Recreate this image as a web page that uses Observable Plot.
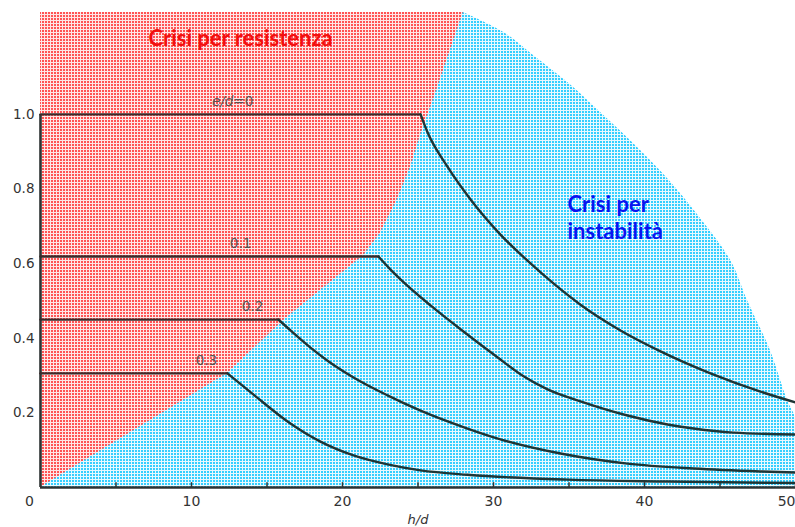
<!DOCTYPE html>
<html><head><meta charset="utf-8">
<script src="https://cdn.jsdelivr.net/npm/d3@7"></script>
<script src="https://cdn.jsdelivr.net/npm/@observablehq/plot@0.6"></script>
<style>body{margin:0;background:#fff;} svg{display:block}</style>
</head><body><div id="chart"></div>
<script>
// e/d curves: h/d (x) and load ratio (y)
const ed0_x = [0, 25.17, 25.63, 26.95, 28.48, 30.46, 32.25, 33.97, 35.76, 38.41, 41.06, 44.37, 47.68, 50];
const ed0_y = [1.0, 1.0, 0.952, 0.860, 0.772, 0.678, 0.608, 0.547, 0.490, 0.421, 0.365, 0.306, 0.257, 0.228];
const ed1_x = [0, 22.38, 23.18, 23.84, 25.83, 28.01, 30.26, 31.99, 33.58, 35.76, 38.87, 41.52, 43.25, 45.89, 50];
const ed1_y = [0.619, 0.619, 0.584, 0.558, 0.488, 0.418, 0.349, 0.298, 0.263, 0.231, 0.193, 0.169, 0.158, 0.147, 0.142];
const ed2_x = [0, 15.76, 16.56, 17.88, 19.01, 20.73, 22.98, 25.17, 28.28, 30.46, 34.44, 38.87, 43.25, 47.68, 50];
const ed2_y = [0.45, 0.45, 0.421, 0.375, 0.340, 0.295, 0.247, 0.206, 0.158, 0.129, 0.091, 0.064, 0.051, 0.043, 0.040];
const ed3_x = [0, 12.38, 14.11, 16.36, 18.54, 20.73, 22.98, 25.17, 28.28, 34.90, 41.52, 50];
const ed3_y = [0.306, 0.306, 0.249, 0.177, 0.123, 0.086, 0.062, 0.046, 0.034, 0.021, 0.016, 0.012];
const curveNames = ["e/d=0", "0.1", "0.2", "0.3"];
const labelHd = [12.72, 13.25, 14.04, 10.99];

// region boundaries
const bnd_x = [0, 12.4, 16.1, 21.4, 22.5, 23.6, 24.5, 25.2, 26.0, 28.0];
const bnd_y = [0, 0.306, 0.448, 0.622, 0.681, 0.769, 0.858, 0.949, 1.037, 1.273];
const arc_x = [50, 50, 49.47, 48.34, 46.82, 45.70, 43.71, 41.52, 39.27, 37.09, 34.90, 32.65, 30.46, 28.0];
const arc_y = [0, 0.180, 0.233, 0.367, 0.501, 0.609, 0.721, 0.828, 0.922, 1.005, 1.086, 1.158, 1.225, 1.273];

// axes
const xTickLabels = [10, 20, 30, 40, 50];
const xTickMarks = [5, 10, 15, 20, 25, 30, 35, 40, 45, 50];
const yTickLabels = [0.2, 0.4, 0.6, 0.8, 1.0];

// annotations
const regionText = ["Crisi per resistenza", "Crisi per\ninstabilità"];
const regionHd = [13.25, 34.9];
const regionNu = [1.201, 0.725];
const regionColor = ["#f20f0f", "#0a14f0"];

const xs = [ed0_x, ed1_x, ed2_x, ed3_x], ys = [ed0_y, ed1_y, ed2_y, ed3_y];
const rows = xs.flatMap((xa, k) => xa.map((x, i) => ({name: curveNames[k], hd: x, nu: ys[k][i], i})));
const flatRows = rows.filter(d => d.i <= 1);
const dropRows = rows.filter(d => d.i >= 1);
const labels = curveNames.map((n, k) => ({name: n, hd: labelHd[k], nu: ys[k][0]}));
const bnd = bnd_x.map((x, i) => ({x, y: bnd_y[i]}));
const arc = arc_x.map((x, i) => ({x, y: arc_y[i]}));
const regions = regionText.map((t, i) => ({t, x: regionHd[i], y: regionNu[i], c: regionColor[i]}));

const svg = Plot.plot({
  width: 795, height: 527,
  marginLeft: 40, marginRight: 0, marginTop: 2, marginBottom: 40,
  style: {fontFamily: "DejaVu Sans, sans-serif", background: "#fff", overflow: "visible"},
  x: {domain: [0, 50]},
  y: {domain: [0, 1.3]},
  marks: [
    Plot.areaX(arc, {y: "y", x1: 0, x2: "x", fill: "url(#bluePat)", curve: "monotone-y"}),
    Plot.areaX(bnd, {y: "y", x1: 0, x2: "x", fill: "url(#redPat)"}),
    Plot.axisX({ticks: xTickLabels, tickSize: 0, tickPadding: 9, fontSize: 14, fill: "#333", label: "h/d", labelAnchor: "center", labelArrow: "none", labelOffset: 36}),
    Plot.axisY({ticks: yTickLabels, tickSize: 0, tickPadding: 6, fontSize: 13.5, fill: "#333", tickFormat: d3.format(".1f"), label: null}),
    Plot.text([0], {x: d => d, y: 0, text: d => "0", dx: -11, dy: 14, fontSize: 14, fill: "#333"}),
    Plot.ruleY([0], {stroke: "#2e3333", strokeWidth: 2.6}),
    Plot.ruleX([0], {y1: 0, y2: 1, stroke: "#2e3333", strokeWidth: 2.6}),
    Plot.ruleX(xTickMarks, {y1: 0, y2: 0.013, stroke: "#2e3333", strokeWidth: 1.5}),
    Plot.line(flatRows, {x: "hd", y: "nu", z: "name", stroke: "#3a2a2a", strokeWidth: 2.4}),
    Plot.line(dropRows, {x: "hd", y: "nu", z: "name", stroke: "#1f3535", strokeWidth: 2.4, curve: "monotone-x"}),
    Plot.text(labels, {x: "hd", y: "nu", text: "name", dy: -13, fontSize: 13.5, fill: "#555"}),
    Plot.text(regions.slice(0, 1), {x: "x", y: "y", text: "t", fill: "c", fontSize: 22, fontWeight: "bold", fontFamily: "Lato, sans-serif", textAnchor: "middle"}),
    Plot.text(regions.slice(1), {x: "x", y: "y", text: "t", fill: "c", fontSize: 22, fontWeight: "bold", fontFamily: "Lato, sans-serif", textAnchor: "start", lineHeight: 1.23})
  ]
});

const ns = "http://www.w3.org/2000/svg";
const defs = document.createElementNS(ns, "defs");
defs.innerHTML = `<pattern id="redPat" width="3" height="3" patternUnits="userSpaceOnUse"><rect width="3" height="3" fill="#ffe6e6"/><rect width="2" height="2" fill="#ff5454"/></pattern>
<pattern id="bluePat" width="3" height="3" patternUnits="userSpaceOnUse"><rect width="3" height="3" fill="#e8f9ff"/><rect width="2" height="2" fill="#35cfff"/></pattern>`;
svg.insertBefore(defs, svg.firstChild);

const root = d3.select(svg);
root.selectAll("g[aria-label='x-axis label'] text").attr("font-style", "italic").attr("font-size", 13).attr("fill", "#333");
root.selectAll("g[aria-label='x-axis tick label'] text").filter(function() { return this.textContent === "50"; }).attr("text-anchor", "end");
root.selectAll("text").each(function() {
  if (this.textContent === "e/d=0") {
    this.textContent = "";
    const a = document.createElementNS(ns, "tspan"); a.setAttribute("font-style", "italic"); a.textContent = "e/d";
    const b = document.createElementNS(ns, "tspan"); b.textContent = "=0";
    this.appendChild(a); this.appendChild(b);
  }
});
document.getElementById("chart").appendChild(svg);
</script></body></html>
